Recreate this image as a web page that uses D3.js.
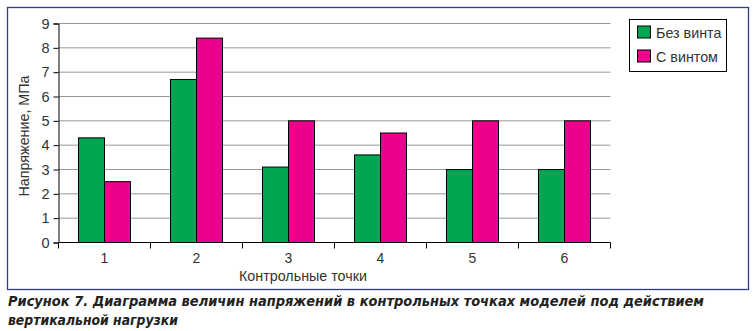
<!DOCTYPE html>
<html><head><meta charset="utf-8">
<script src="https://cdn.jsdelivr.net/npm/d3@7"></script>
<style>body{margin:0;background:#fff;}svg{display:block;}</style>
</head><body><svg id="c" width="755" height="331"></svg>
<script>
const categories = ["1","2","3","4","5","6"];
const seriesNames = ["Без винта","С винтом"];
const withoutScrew = [4.3, 6.7, 3.1, 3.6, 3.0, 3.0];
const withScrew = [2.5, 8.4, 5.0, 4.5, 5.0, 5.0];
const yTicks = [0,1,2,3,4,5,6,7,8,9];
const colors = ["#00a651","#ec008c"];
const yTitle = "Напряжение, МПа";
const xTitle = "Контрольные точки";
const caption1 = "Рисунок 7. Диаграмма величин напряжений в контрольных точках моделей под действием";
const caption2 = "вертикальной нагрузки";

const svg = d3.select("#c");
const font = "'Liberation Sans', Arial, sans-serif";
// frame
svg.append("rect").attr("x",7.5).attr("y",7.5).attr("width",741).attr("height",282)
  .attr("fill","none").attr("stroke","#2b3f86").attr("stroke-width",1.3);

const L=58.5, R=610.5, T=23.5, B=242.5;
const x = d3.scaleBand().domain(categories).range([L,R]).paddingInner(0).paddingOuter(0);
const y = d3.scaleLinear().domain([0,9]).range([B,T]);
const xs = d3.scaleBand().domain(seriesNames).range([0,x.bandwidth()]).paddingInner(0).paddingOuter(0.77);

// grid
svg.append("g").selectAll("line").data(yTicks.filter(d=>d>0)).join("line")
  .attr("x1",L).attr("x2",R).attr("y1",d=>y(d)).attr("y2",d=>y(d))
  .attr("stroke","#999").attr("stroke-width",1);

// bars
const data = [withoutScrew, withScrew];
categories.forEach((c,i)=>{
  seriesNames.forEach((s,j)=>{
    svg.append("rect").attr("x",x(c)+xs(s)).attr("y",y(data[j][i]))
      .attr("width",xs.bandwidth()).attr("height",B-y(data[j][i]))
      .attr("fill",colors[j]).attr("stroke","#000").attr("stroke-width",1);
  });
});

// axes
const ya = svg.append("g").attr("transform",`translate(${L},0)`)
  .call(d3.axisLeft(y).tickValues(yTicks).tickSize(5).tickPadding(4).tickFormat(d3.format("d")));
ya.select(".domain").attr("stroke","#000");
ya.selectAll("text").attr("font-family",font).attr("font-size",14.5).attr("fill","#333");
const xa = svg.append("g").attr("transform",`translate(0,${B})`)
  .call(d3.axisBottom(x).tickSize(0).tickPadding(11));
xa.select(".domain").attr("d",`M${L},0H${R}`).attr("stroke","#000");
xa.selectAll("text").attr("font-family",font).attr("font-size",14).attr("fill","#333");
// band boundary ticks
svg.append("g").selectAll("line").data(categories.concat(["end"])).join("line")
  .attr("x1",(d,i)=>L+i*x.bandwidth()).attr("x2",(d,i)=>L+i*x.bandwidth())
  .attr("y1",B).attr("y2",B+6).attr("stroke","#000");

// titles
svg.append("text").attr("x",303).attr("y",281).attr("text-anchor","middle")
  .attr("font-family",font).attr("font-size",14.3).attr("fill","#333").text(xTitle);
svg.append("text").attr("transform","translate(29,136) rotate(-90)").attr("text-anchor","middle")
  .attr("font-family",font).attr("font-size",14.3).attr("fill","#333").text(yTitle);

// legend
svg.append("rect").attr("x",629.5).attr("y",19.5).attr("width",97).attr("height",52)
  .attr("fill","#fff").attr("stroke","#000");
seriesNames.forEach((s,j)=>{
  svg.append("rect").attr("x",637.5).attr("y",26+j*24).attr("width",13).attr("height",12)
    .attr("fill",colors[j]).attr("stroke","#000");
  svg.append("text").attr("x",656).attr("y",37.5+j*24).attr("font-family",font)
    .attr("font-size",14.3).attr("fill","#333").text(s);
});

// caption
const cf = "'Liberation Sans Narrow', 'DejaVu Sans Condensed', Arial, sans-serif";
svg.append("text").attr("x",8).attr("y",306).attr("font-family",cf).attr("font-size",14)
  .attr("font-weight","bold").attr("font-style","italic").attr("fill","#222")
  .attr("textLength",696).attr("lengthAdjust","spacingAndGlyphs").text(caption1);
svg.append("text").attr("x",8).attr("y",325).attr("font-family",cf).attr("font-size",14)
  .attr("font-weight","bold").attr("font-style","italic").attr("fill","#222")
  .attr("textLength",170).attr("lengthAdjust","spacingAndGlyphs").text(caption2);
</script></body></html>
